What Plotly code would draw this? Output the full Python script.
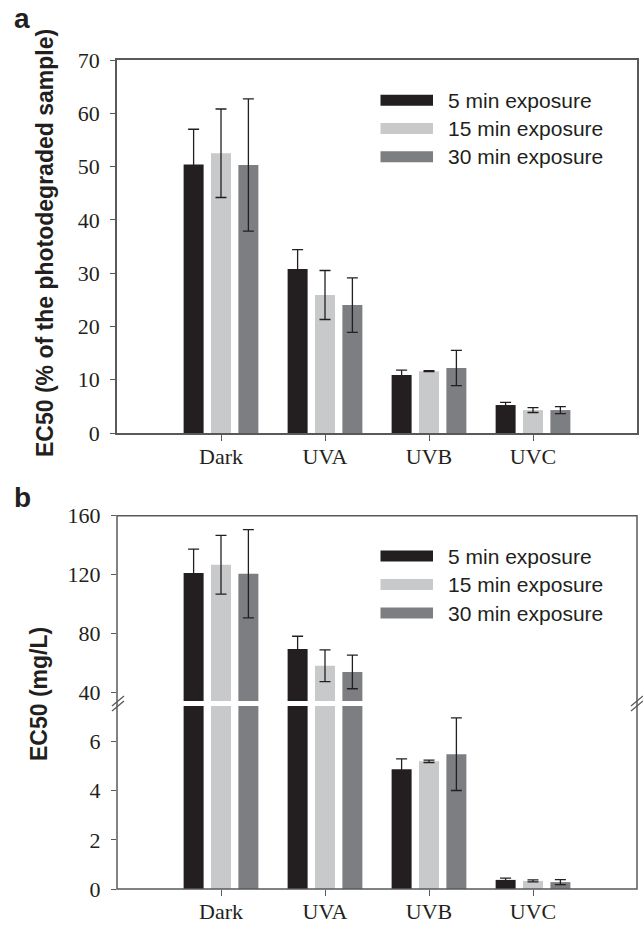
import plotly.graph_objects as go

# ---------------- data ----------------
categories = ["Dark", "UVA", "UVB", "UVC"]
series_names = ["5 min exposure", "15 min exposure", "30 min exposure"]
series_colors = ["#231f20", "#c8c9cb", "#7d7e82"]

# Panel a: EC50 (% of the photodegraded sample)
a_5min = [50.4, 30.8, 10.9, 5.25]
a_15min = [52.5, 25.9, 11.6, 4.3]
a_30min = [50.3, 24.0, 12.2, 4.3]
a_5min_err = [6.6, 3.6, 0.9, 0.5]
a_15min_err = [8.3, 4.6, 0.1, 0.45]
a_30min_err = [12.4, 5.1, 3.3, 0.65]

# Panel b: EC50 (mg/L)
b_5min = [121.1, 69.7, 4.88, 0.37]
b_15min = [126.7, 58.3, 5.20, 0.33]
b_30min = [120.6, 54.1, 5.49, 0.28]
b_5min_err = [16.3, 8.6, 0.42, 0.07]
b_15min_err = [19.9, 10.8, 0.05, 0.04]
b_30min_err = [29.9, 11.4, 1.48, 0.10]

a_ticks = [0, 10, 20, 30, 40, 50, 60, 70]
b_top_ticks = [40, 80, 120, 160]
b_low_ticks = [0, 2, 4, 6]

a_vals = [a_5min, a_15min, a_30min]
a_errs = [a_5min_err, a_15min_err, a_30min_err]
b_vals = [b_5min, b_15min, b_30min]
b_errs = [b_5min_err, b_15min_err, b_30min_err]

# ---------------- geometry helpers ----------------
W, H = 643, 927
ML, MR, MT, MB = 117, 6, 60, 38
PW = W - ML - MR
PH = H - MT - MB


def px(x):
    return (x - ML) / PW


def py(y):
    return (H - MB - y) / PH


AXC = "#58595b"
ERRC = "#231f20"
TICKFONT = dict(family="Liberation Serif, Times New Roman, serif", size=22, color="#231f20")
TITLEFONT = dict(family="Liberation Sans, Arial, sans-serif", size=23, color="#231f20")

fig = go.Figure()

# Panel a bars
for name, color, vals, errs in zip(series_names, series_colors, a_vals, a_errs):
    fig.add_trace(go.Bar(
        x=categories, y=vals, name=name, marker_color=color, marker_line_width=0,
        error_y=dict(type="data", array=errs, visible=True, color=ERRC, thickness=1.3, width=5.5),
        xaxis="x", yaxis="y", showlegend=False,
    ))

# Panel b bars: top segment (y2) and bottom segment (y3), sharing x2
for yax in ["y2", "y3"]:
    for name, color, vals, errs in zip(series_names, series_colors, b_vals, b_errs):
        fig.add_trace(go.Bar(
            x=categories, y=vals, name=name, marker_color=color, marker_line_width=0,
            error_y=dict(type="data", array=errs, visible=True, color=ERRC, thickness=1.3, width=5.5),
            xaxis="x2", yaxis=yax, showlegend=False, offsetgroup=name,
        ))

xcommon = dict(
    type="category", range=[-1, 4], ticks="outside", ticklen=6, tickwidth=1.3, tickcolor=AXC,
    tickfont=TICKFONT, showgrid=False, zeroline=False, automargin=False, ticklabelstandoff=-3,
)
ycommon = dict(
    ticks="outside", ticklen=5, tickwidth=1.3, tickcolor=AXC, tickfont=TICKFONT,
    showgrid=False, zeroline=False, ticklabelstandoff=6, automargin=False,
)

fig.update_layout(
    width=W, height=H,
    margin=dict(l=ML, r=MR, t=MT, b=MB, pad=0, autoexpand=False),
    paper_bgcolor="white", plot_bgcolor="white",
    barmode="group", bargap=0.21, bargroupgap=0.27,
    xaxis=dict(**xcommon, domain=[0, 1], anchor="y", showline=True, linecolor=AXC, linewidth=1.5, mirror=True),
    yaxis=dict(**ycommon, domain=[py(433), 1.0], range=[0, 70], tickvals=a_ticks,
               showline=True, linecolor=AXC, linewidth=1.5, mirror=True, anchor="x"),
    xaxis2=dict(**xcommon, domain=[0, 1], anchor="y3", showline=False),
    yaxis2=dict(**ycommon, domain=[py(701), py(515.7)], range=[34.4, 160], tickvals=b_top_ticks,
                showline=False, anchor="x2"),
    yaxis3=dict(**ycommon, domain=[0, py(706)], range=[0, 7.45], tickvals=b_low_ticks,
                showline=False, anchor="x2"),
)

shapes = []
# Panel b frame
shapes.append(dict(type="rect", xref="paper", yref="paper", x0=0, x1=1, y0=0, y1=py(515.7),
                   line=dict(color=AXC, width=1.5), fillcolor="rgba(0,0,0,0)", layer="above"))
# Break marks
for cx in [118, 637]:
    for cy in [701, 706]:
        shapes.append(dict(type="line", xref="paper", yref="paper",
                           x0=px(cx - 6), y0=py(cy + 5), x1=px(cx + 6), y1=py(cy - 5),
                           line=dict(color=AXC, width=1.3), layer="above"))

annotations = []
# Manual legends
legend_rows = {"a": [100.3, 128.5, 156.7], "b": [556, 584.5, 613]}
for key, rows in legend_rows.items():
    for name, color, yc in zip(series_names, series_colors, rows):
        shapes.append(dict(type="rect", xref="paper", yref="paper",
                           x0=px(380.5), x1=px(433), y0=py(yc + 5.5), y1=py(yc - 5.5),
                           line=dict(width=0), fillcolor=color, layer="above"))
        annotations.append(dict(xref="paper", yref="paper", x=px(446), y=py(yc), text=name,
                                showarrow=False, xanchor="left", yanchor="middle",
                                font=dict(family="Liberation Sans, Arial, sans-serif", size=21, color="#231f20")))

# Axis titles
annotations.append(dict(xref="paper", yref="paper", x=px(45), y=py(243), text="<b>EC50 (% of the photodegraded sample)</b>",
                        textangle=-90, showarrow=False, xanchor="center", yanchor="middle", font=TITLEFONT))
annotations.append(dict(xref="paper", yref="paper", x=px(39), y=py(694), text="<b>EC50 (mg/L)</b>",
                        textangle=-90, showarrow=False, xanchor="center", yanchor="middle", font=TITLEFONT))
# Panel letters
LETTERFONT = dict(family="Liberation Sans, Arial, sans-serif", size=28, color="#231f20")
annotations.append(dict(xref="paper", yref="paper", x=px(12), y=py(19), text="<b>a</b>", showarrow=False,
                        xanchor="left", yanchor="middle", font=LETTERFONT))
annotations.append(dict(xref="paper", yref="paper", x=px(12), y=py(497), text="<b>b</b>", showarrow=False,
                        xanchor="left", yanchor="middle", font=LETTERFONT))

fig.update_layout(shapes=shapes, annotations=annotations)

fig.write_html("out.html")
